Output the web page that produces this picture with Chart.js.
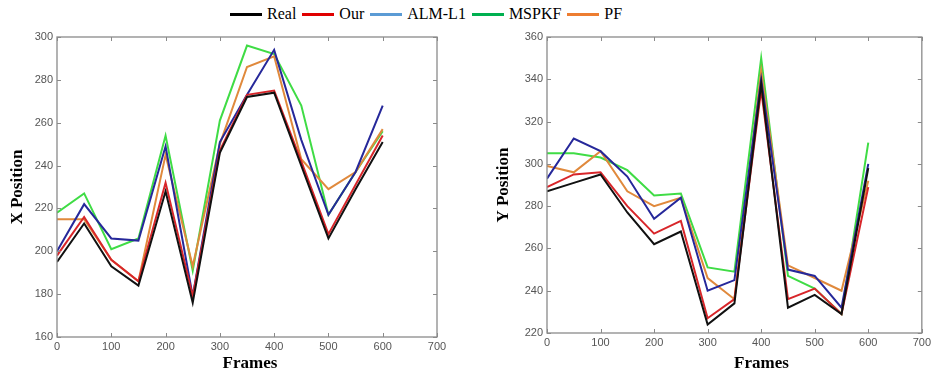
<!DOCTYPE html>
<html>
<head>
<meta charset="utf-8">
<script src="https://cdn.jsdelivr.net/npm/chart.js@4/dist/chart.umd.min.js"></script>
<style>
  html, body { margin: 0; padding: 0; background: #fff; }
  body { width: 934px; height: 376px; position: relative; overflow: hidden; }
  .wrap { position: absolute; top: 0; width: 467px; height: 376px; }
  #legend { position: absolute; left: 230px; top: 5px; display: flex; align-items: center;
            font-family: "Liberation Serif", "Times New Roman", serif; font-size: 16px; color: #000; white-space: nowrap; }
  #legend .item { display: flex; align-items: center; margin-right: 6px; }
  #legend .sw { width: 32px; height: 3px; margin-right: 5px; }
</style>
</head>
<body>
<div id="legend"></div>
<div class="wrap" style="left:0"><canvas id="cx" width="467" height="376"></canvas></div>
<div class="wrap" style="left:467px"><canvas id="cy" width="467" height="376"></canvas></div>
<script>
const frames = [0, 50, 100, 150, 200, 250, 300, 350, 400, 450, 500, 550, 600];
const seriesNames = ["Real", "Our", "ALM-L1", "MSPKF", "PF"];

// X Position (left panel)
const xReal   = [195, 213, 193, 184, 228, 176, 246, 272, 274, 240, 206, 229, 251];
const xOur    = [198, 216, 196, 186, 232, 179, 247, 273, 275, 242, 208, 231, 254];
const xALM    = [200, 222, 206, 205, 249, 179, 251, 273, 294, 252, 217, 237, 268];
const xMSPKF  = [218, 227, 201, 206, 254, 191, 261, 296, 292, 268, 217, 237, 256];
const xPF     = [215, 215, 196, 186, 245, 193, 250, 286, 291, 243, 229, 237, 257];

// Y Position (right panel)
const yReal   = [287, 291, 295, 277, 262, 268, 224, 234, 338, 232, 238, 229, 298];
const yOur    = [289, 295, 296, 280, 267, 273, 227, 236, 335, 236, 241, 229, 289];
const yALM    = [293, 312, 306, 294, 274, 284, 240, 245, 340, 250, 247, 232, 300];
const yMSPKF  = [305, 305, 303, 297, 285, 286, 251, 249, 350, 247, 241, 229, 310];
const yPF     = [299, 296, 306, 287, 280, 284, 246, 236, 344, 252, 246, 240, 292];

const xTicks = [0, 100, 200, 300, 400, 500, 600, 700];
const yTicksLeft  = [160, 180, 200, 220, 240, 260, 280, 300];
const yTicksRight = [220, 240, 260, 280, 300, 320, 340, 360];

const lineColors   = ["#111111", "#d8262a", "#26289a", "#3fdc45", "#e0893c"];
const legendColors = ["#000000", "#e00000", "#5b9bd5", "#00b050", "#ed7d31"];
const drawOrder    = [1, 2, 3, 5, 4];

// HTML legend
const leg = document.getElementById('legend');
seriesNames.forEach((n, i) => {
  const it = document.createElement('div'); it.className = 'item';
  const sw = document.createElement('div'); sw.className = 'sw'; sw.style.background = legendColors[i];
  const tx = document.createElement('span'); tx.textContent = n;
  it.appendChild(sw); it.appendChild(tx); leg.appendChild(it);
});

const boxTicks = {
  id: 'boxTicks',
  afterDraw(chart, args, opts) {
    const {ctx, chartArea: a, scales} = chart;
    ctx.save();
    ctx.strokeStyle = '#8a8a8a';
    ctx.lineWidth = 1.3;
    ctx.strokeRect(a.left, a.top, a.right - a.left, a.bottom - a.top);
    ctx.lineWidth = 1;
    const L = 4;
    scales.x.ticks.forEach(t => {
      const p = Math.round(scales.x.getPixelForValue(t.value)) + 0.5;
      ctx.beginPath();
      ctx.moveTo(p, a.bottom); ctx.lineTo(p, a.bottom - L);
      ctx.moveTo(p, a.top); ctx.lineTo(p, a.top + L);
      ctx.stroke();
    });
    scales.y.ticks.forEach(t => {
      const p = Math.round(scales.y.getPixelForValue(t.value)) + 0.5;
      ctx.beginPath();
      ctx.moveTo(a.left, p); ctx.lineTo(a.left + L, p);
      ctx.moveTo(a.right, p); ctx.lineTo(a.right - L, p);
      ctx.stroke();
    });
    // x axis title
    ctx.fillStyle = '#000';
    ctx.font = 'bold 17px "Liberation Serif", "Times New Roman", serif';
    ctx.textAlign = 'center';
    ctx.textBaseline = 'middle';
    ctx.fillText(opts.text, (a.left + a.right) / 2 + opts.dx, opts.y);
    ctx.restore();
  }
};

function makeChart(id, series, yTicks, yTitle, yAxisWidth, yTitlePad, padRight, xAxisHeight, xTitleDx) {
  const datasets = series.map((s, i) => ({
    label: seriesNames[i],
    data: frames.map((f, k) => ({x: f, y: s[k]})),
    borderColor: lineColors[i],
    backgroundColor: lineColors[i],
    borderWidth: 2,
    pointRadius: 0,
    tension: 0,
    order: drawOrder[i]
  }));
  return new Chart(document.getElementById(id), {
    type: 'line',
    data: { datasets },
    plugins: [boxTicks],
    options: {
      responsive: false,
      animation: false,
      layout: { padding: { top: 37, right: padRight, bottom: 0, left: 0 } },
      plugins: {
        legend: { display: false },
        tooltip: { enabled: false },
        boxTicks: { text: 'Frames', dx: xTitleDx, y: 364 }
      },
      scales: {
        x: {
          type: 'linear',
          min: xTicks[0], max: xTicks[xTicks.length - 1],
          afterBuildTicks: s => { s.ticks = xTicks.map(v => ({value: v})); },
          afterFit: s => { s.height = xAxisHeight; },
          grid: { display: false, drawTicks: false },
          border: { display: false },
          ticks: { color: '#555', padding: 3, maxRotation: 0,
                   font: { family: '"Liberation Sans", Arial, sans-serif', size: 11 } }
        },
        y: {
          type: 'linear',
          min: yTicks[0], max: yTicks[yTicks.length - 1],
          afterBuildTicks: s => { s.ticks = yTicks.map(v => ({value: v})); },
          afterFit: s => { s.width = yAxisWidth; },
          grid: { display: false, drawTicks: false },
          border: { display: false },
          ticks: { color: '#555', padding: 4,
                   font: { family: '"Liberation Sans", Arial, sans-serif', size: 11 } },
          title: { display: true, text: yTitle, color: '#000',
                   padding: { top: yTitlePad, bottom: 0 },
                   font: { family: '"Liberation Serif", "Times New Roman", serif', size: 17, weight: 'bold' } }
        }
      }
    }
  });
}

makeChart('cx', [xReal, xOur, xALM, xMSPKF, xPF], yTicksLeft, 'X Position', 57, 7, 30, 39, 3);
makeChart('cy', [yReal, yOur, yALM, yMSPKF, yPF], yTicksRight, 'Y Position', 80, 26, 12, 43, 27);
</script>
</body>
</html>
